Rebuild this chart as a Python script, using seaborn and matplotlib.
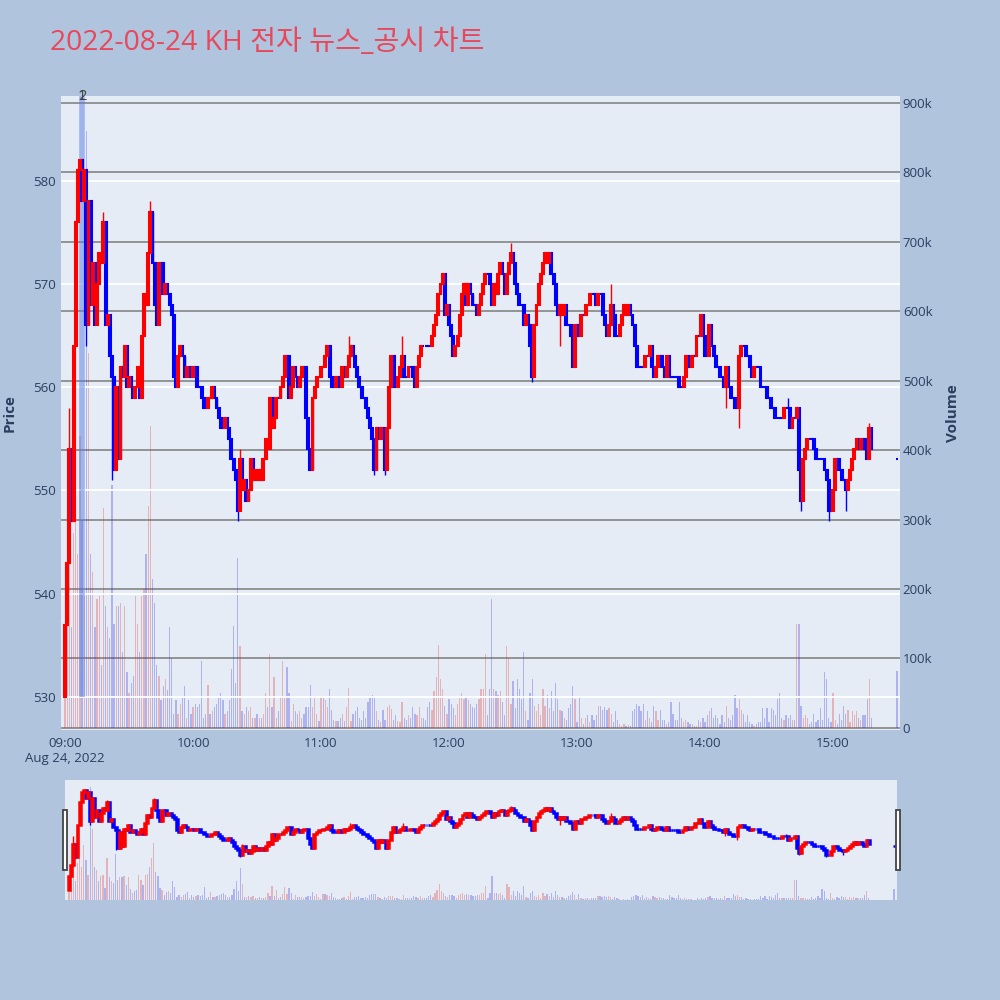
import numpy as np
import pandas as pd
import seaborn as sns
import matplotlib.pyplot as plt
from matplotlib.patches import Rectangle

# 1-minute candles, minute 0 = 09:00
closes = [
    537, 543, 554, 547, 564, 576, 581, 582, 578, 581,
    566, 578, 568, 572, 566, 570, 573, 572, 576, 566,
    567, 563, 561, 552, 560, 553, 562, 561, 564, 560,
    561, 560, 559, 560, 562, 559, 565, 569, 568, 573,
    577, 572, 568, 566, 572, 572, 569, 570, 569, 568,
    567, 561, 560, 563, 564, 563, 561, 562, 562, 561,
    562, 562, 560, 560, 559, 558, 558, 559, 559, 560,
    559, 558, 557, 556, 556, 557, 556, 555, 553, 552,
    551, 548, 553, 550, 551, 549, 550, 553, 551, 552,
    551, 552, 551, 553, 555, 554, 559, 556, 557, 559,
    559, 560, 561, 563, 563, 559, 560, 562, 561, 560,
    561, 562, 562, 557, 554, 552, 559, 560, 561, 561,
    562, 562, 563, 564, 561, 560, 560, 561, 560, 560,
    562, 561, 562, 563, 564, 563, 562, 561, 560, 559,
    559, 558, 557, 556, 555, 552, 556, 555, 556, 555,
    552, 556, 560, 563, 560, 560, 561, 562, 563, 561,
    561, 562, 562, 561, 560, 562, 563, 564, 564, 564,
    564, 564, 565, 566, 567, 569, 570, 571, 567, 568,
    566, 565, 563, 564, 565, 567, 569, 570, 568, 570,
    569, 568, 568, 567, 568, 569, 570, 571, 571, 570,
    568, 570, 569, 571, 572, 571, 569, 571, 572, 573,
    572, 570, 569, 568, 568, 566, 567, 566, 564, 561,
    566, 568, 570, 571, 572, 573, 572, 573, 571, 570,
    568, 567, 568, 567, 568, 566, 566, 565, 562, 566,
    566, 565, 567, 567, 568, 568, 569, 569, 569, 568,
    569, 569, 567, 566, 565, 566, 568, 567, 565, 565,
    566, 567, 568, 567, 568, 567, 566, 564, 562, 562,
    562, 562, 563, 563, 564, 562, 561, 562, 563, 563,
    562, 561, 563, 561, 561, 561, 561, 561, 560, 560,
    561, 563, 562, 562, 563, 563, 565, 565, 567, 565,
    563, 563, 566, 564, 563, 562, 562, 561, 561, 560,
    562, 560, 559, 559, 558, 558, 563, 564, 564, 563,
    563, 562, 561, 562, 562, 562, 560, 560, 560, 559,
    559, 558, 558, 557, 557, 557, 557, 558, 558, 558,
    556, 557, 557, 558, 552, 549, 553, 554, 555, 555,
    555, 554, 553, 553, 553, 553, 552, 551, 548, 548,
    550, 553, 553, 552, 551, 551, 550, 551, 552, 553,
    554, 555, 554, 555, 555, 554, 553, 556, 554,
]
first_open = 530

# volume in thousands
volumes_k = [
    60, 210, 310, 145, 280, 545, 250, 420, 300, 190,
    860, 540, 250, 225, 145, 185, 190, 90, 316, 175,
    145, 130, 350, 150, 175, 175, 180, 110, 175, 80,
    50, 65, 75, 190, 150, 110, 190, 200, 250, 320,
    435, 215, 180, 90, 75, 40, 60, 70, 55, 145,
    100, 20, 40, 20, 35, 45, 60, 15, 40, 20,
    30, 35, 30, 35, 97, 15, 20, 62, 20, 25,
    30, 35, 45, 50, 40, 20, 25, 40, 85, 147,
    65, 244, 118, 25, 20, 30, 25, 30, 15, 15,
    20, 15, 15, 20, 50, 30, 106, 30, 74, 15,
    25, 45, 97, 45, 88, 50, 10, 35, 25, 20,
    25, 15, 20, 30, 30, 62, 30, 45, 20, 10,
    45, 45, 40, 30, 56, 26, 12, 10, 10, 15,
    20, 10, 30, 58, 10, 20, 25, 30, 15, 12,
    25, 15, 38, 44, 47, 44, 24, 12, 8, 26,
    12, 30, 33, 27, 12, 18, 10, 9, 38, 15,
    12, 18, 15, 30, 20, 18, 30, 15, 15, 12,
    30, 38, 26, 53, 74, 120, 70, 56, 32, 20,
    41, 35, 29, 18, 35, 44, 50, 41, 44, 40,
    35, 30, 28, 35, 41, 56, 56, 106, 18, 56,
    185, 56, 53, 47, 53, 38, 18, 118, 100, 35,
    68, 29, 70, 56, 41, 109, 24, 12, 50, 70,
    32, 24, 35, 18, 56, 32, 47, 29, 53, 24,
    65, 41, 26, 24, 15, 12, 29, 35, 60, 41,
    9, 44, 15, 6, 15, 18, 9, 18, 12, 18,
    32, 32, 26, 30, 26, 29, 20, 9, 24, 12,
    6, 3, 6, 3, 4, 3, 24, 27, 35, 32,
    24, 35, 12, 24, 15, 9, 32, 24, 12, 26,
    12, 12, 6, 9, 38, 20, 12, 12, 38, 15,
    9, 12, 9, 6, 6, 3, 3, 12, 9, 15,
    9, 18, 24, 29, 15, 18, 15, 6, 18, 9,
    32, 15, 12, 18, 47, 29, 41, 26, 20, 9,
    18, 9, 6, 3, 6, 9, 9, 29, 15, 29,
    9, 29, 26, 18, 41, 50, 15, 12, 18, 15,
    18, 12, 12, 150, 150, 32, 15, 18, 15, 6,
    9, 20, 9, 12, 29, 12, 80, 70, 15, 9,
    50, 12, 6, 20, 12, 32, 20, 26, 9, 24,
    18, 24, 15, 12, 18, 18, 41, 70, 15,
]

# closing auction print at 15:30
last_minute = 390
last_close = 553
last_volume_k = 82

# wicks that stick out of the bodies
hi_idx = [2, 7, 10, 18, 40, 82, 133, 158, 209, 225, 256, 339, 377]
hi_val = [558, 582, 581, 577, 578, 554, 565, 565, 574, 573, 570, 559, 556.5]
lo_idx = [10, 22, 81, 145, 150, 219, 232, 310, 316, 345, 358, 366]
lo_val = [564, 551, 547, 551.5, 551.5, 560.5, 564, 558, 556, 548, 547, 548]

# news / disclosure markers
event_minutes = [8, 8]
event_labels = ['1', '2']

time_ticks = [0, 60, 120, 180, 240, 300, 360]
time_labels = ['09:00\nAug 24, 2022', '10:00', '11:00', '12:00', '13:00', '14:00', '15:00']
price_ticks = [530, 540, 550, 560, 570, 580]
vol_ticks = [0, 100, 200, 300, 400, 500, 600, 700, 800, 900]
vol_labels = ['0', '100k', '200k', '300k', '400k', '500k', '600k', '700k', '800k', '900k']

# ---- frame
minutes = list(range(len(closes))) + [last_minute]
close = closes + [last_close]
opens = [first_open] + closes[:-1] + [last_close]  # auction print is a single price
df = pd.DataFrame({'minute': minutes, 'open': opens, 'close': close,
                   'volume': volumes_k + [last_volume_k]})
df['high'] = df[['open', 'close']].max(axis=1).astype(float)
df['low'] = df[['open', 'close']].min(axis=1).astype(float)
for i, v in zip(hi_idx, hi_val):
    df.at[i, 'high'] = max(df.at[i, 'high'], v)
for i, v in zip(lo_idx, lo_val):
    df.at[i, 'low'] = min(df.at[i, 'low'], v)
df['dir'] = np.where(df['close'] > df['open'], 'up', 'down')

sns.set_theme(style='white')
plt.rcParams['font.family'] = ['Open Sans', 'Noto Sans CJK KR', 'DejaVu Sans']

BG = '#e5ecf6'
TXT = '#2a3f5f'
pal = {'up': '#ff0000', 'down': '#0000ff'}
XLIM = (-1.9, 391.4)
PLIM = (526.8, 588.2)
VLIM = (-3, 910)


def draw_candles(ax, lw):
    for d, g in df.groupby('dir'):
        c = pal[d]
        ax.vlines(g['minute'], g['low'], g['high'], color=c, lw=1.0, zorder=3)
        body = (g['close'] - g['open']).abs()
        ax.bar(g['minute'], body, bottom=g[['open', 'close']].min(axis=1),
               width=0.9, color=c, edgecolor=c, linewidth=lw, zorder=4)


def draw_volume(ax):
    sns.barplot(data=df, x='minute', y='volume', hue='dir', palette=pal,
                native_scale=True, dodge=False, width=0.6, alpha=0.28,
                errorbar=None, legend=False, linewidth=0, ax=ax)


fig = plt.figure(figsize=(10, 10), dpi=100)
fig.patch.set_facecolor('#b0c4de')

# ---- main chart
ax = fig.add_axes([0.061, 0.270, 0.839, 0.634])
ax2 = ax.twinx()
ax.set_zorder(ax2.get_zorder() + 1)
ax.patch.set_visible(False)
ax2.patch.set_visible(True)
ax2.set_facecolor(BG)

draw_volume(ax2)
ax2.set_ylim(*VLIM)
ax2.set_yticks(vol_ticks)
ax2.set_yticklabels(vol_labels)
ax2.grid(axis='y', color='#8c8c8c', lw=1.3)
ax2.grid(axis='x', visible=False)
ax2.set_ylabel('')
ax2.set_xlabel('')

ax.grid(axis='y', color='white', lw=1.3)
ax.grid(axis='x', visible=False)
draw_candles(ax, 1.5)
for m, lab in zip(event_minutes, event_labels):
    ax.vlines(m, 530, PLIM[1], color='#5b7fe6', alpha=0.3, lw=4, zorder=2.5)
    ax.text(m, PLIM[1], lab, ha='center', va='center', fontsize=10.5,
            color='#444444', zorder=6, clip_on=False)

ax.set_xlim(*XLIM)
ax.set_ylim(*PLIM)
ax.set_yticks(price_ticks)
ax.set_xticks(time_ticks)
ax.set_xticklabels(time_labels)

for a in (ax, ax2):
    for s in a.spines.values():
        s.set_visible(False)
    a.tick_params(length=0, labelsize=9.5, colors=TXT)
ax.tick_params(axis='y', pad=4)
ax.tick_params(axis='x', pad=5)
ax2.tick_params(axis='y', pad=2)

fig.text(0.010, 0.587, 'Price', rotation=90, ha='center', va='center',
         fontsize=11, weight='bold', color=TXT)
fig.text(0.953, 0.587, 'Volume', rotation=90, ha='center', va='center',
         fontsize=11, weight='bold', color=TXT)

# ---- range slider
sx = fig.add_axes([0.065, 0.100, 0.832, 0.120])
sx2 = sx.twinx()
sx.set_zorder(sx2.get_zorder() + 1)
sx.patch.set_visible(False)
sx2.patch.set_visible(True)
sx2.set_facecolor(BG)
draw_volume(sx2)
sx2.set_ylim(0, 910)
draw_candles(sx, 1.8)
sx.set_xlim(*XLIM)
sx.set_ylim(524.5, 587.5)
for a in (sx, sx2):
    a.set_xticks([])
    a.set_yticks([])
    a.set_xlabel('')
    a.set_ylabel('')
    for s in a.spines.values():
        s.set_visible(False)

for x0 in (0.0625, 0.8955):
    fig.patches.append(Rectangle((x0, 0.130), 0.0045, 0.060, transform=fig.transFigure,
                                 facecolor='white', edgecolor='#444444', lw=1.3))

fig.text(0.05, 0.957, '2022-08-24 KH 전자 뉴스_공시 차트', ha='left', va='center',
         fontsize=20.3, color='#e8485c')

fig.savefig('out.png', dpi=100, facecolor=fig.get_facecolor())
